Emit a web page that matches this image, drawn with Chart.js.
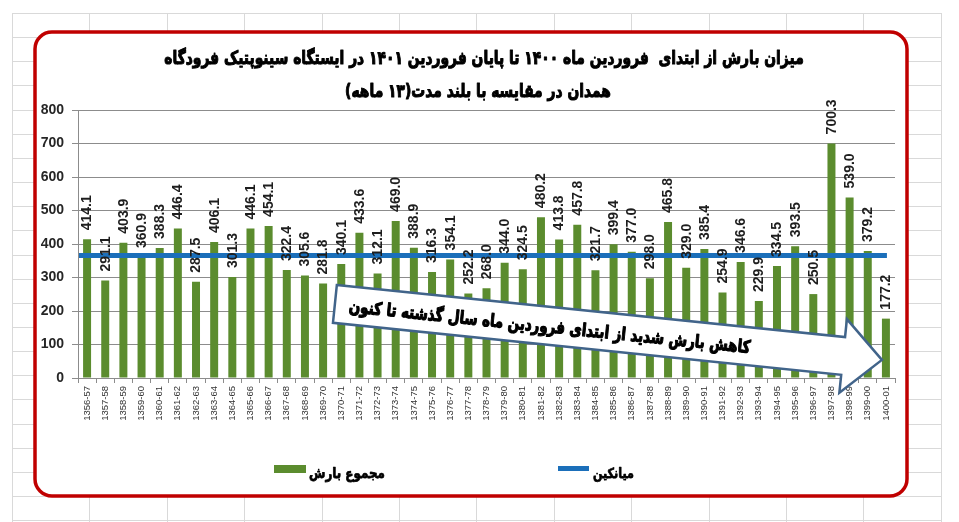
<!DOCTYPE html>
<html>
<head>
<meta charset="utf-8">
<script src="https://cdn.jsdelivr.net/npm/chart.js@4.4.1/dist/chart.umd.min.js"></script>
<style>
  html, body { margin: 0; padding: 0; background: #ffffff; }
  canvas { display: block; }
</style>
</head>
<body>
<canvas id="c" width="959" height="522"></canvas>
<script>
// ---------------- DATA ----------------
const categories = [
  '1356-57','1357-58','1358-59','1359-60','1360-61','1361-62','1362-63','1363-64','1364-65','1365-66',
  '1366-67','1367-68','1368-69','1369-70','1370-71','1371-72','1372-73','1373-74','1374-75','1375-76',
  '1376-77','1377-78','1378-79','1379-80','1380-81','1381-82','1382-83','1383-84','1384-85','1385-86',
  '1386-87','1387-88','1388-89','1389-90','1390-91','1391-92','1392-93','1393-94','1394-95','1395-96',
  '1396-97','1397-98','1398-99','1399-00','1400-01'
];
const rainfall = [
  414.1, 291.1, 403.9, 360.9, 388.3, 446.4, 287.5, 406.1, 301.3, 446.1,
  454.1, 322.4, 305.6, 281.8, 340.1, 433.6, 312.1, 469.0, 388.9, 316.3,
  354.1, 252.2, 268.0, 344.0, 324.5, 480.2, 413.8, 457.8, 321.7, 399.4,
  377.0, 298.0, 465.8, 329.0, 385.4, 254.9, 346.6, 229.9, 334.5, 393.5,
  250.5, 700.3, 539.0, 379.2, 177.2
];
const meanValue = 365.5;
const yTickValues = [0, 100, 200, 300, 400, 500, 600, 700, 800];
const titleLines = [
  'میزان بارش از ابتدای  فروردین ماه ۱۴۰۰ تا پایان فروردین ۱۴۰۱ در ایستگاه سینوپتیک فرودگاه',
  'همدان در مقایسه با بلند مدت(۱۳ ماهه)'
];
const seriesNames = ['مجموع بارش', 'میانکین'];
const arrowText = 'کاهش بارش شدید از ابتدای فروردین ماه سال گذشته تا کنون';

// ---------------- STYLE ----------------
const GREEN = '#5b8c2e';
const BLUE = '#1b6fba';
const RED = '#c00000';
const PERSIAN_FONT = '"DejaVu Sans"';
const LATIN_FONT = '"Liberation Sans", Arial, sans-serif';

function fitFont(ctx, text, target, weight, family, base) {
  ctx.font = weight + ' ' + base + 'px ' + family;
  const w = ctx.measureText(text).width;
  return base * target / w;
}

// heavy text: fill + thin stroke, with optional vertical stretch
function heavyText(ctx, text, x, y, stretch, strokeW) {
  ctx.save();
  ctx.translate(x, y);
  ctx.scale(1, stretch);
  ctx.lineWidth = strokeW;
  ctx.strokeStyle = ctx.fillStyle;
  ctx.lineJoin = 'round';
  ctx.strokeText(text, 0, 0);
  ctx.fillText(text, 0, 0);
  ctx.restore();
}

const decorPlugin = {
  id: 'decor',
  beforeDraw(chart) {
    const ctx = chart.ctx;
    ctx.save();
    ctx.fillStyle = '#ffffff';
    ctx.fillRect(0, 0, chart.width, chart.height);
    ctx.strokeStyle = '#d9d9d9';
    ctx.lineWidth = 1;
    const gx0 = 12, gdx = 77.4, gy0 = 13, gdy = 24.15, gxEnd = 941, gyEnd = 522;
    for (let x = gx0; x <= gxEnd + 1; x += gdx) {
      ctx.beginPath(); ctx.moveTo(Math.round(x) + 0.5, gy0); ctx.lineTo(Math.round(x) + 0.5, gyEnd); ctx.stroke();
    }
    for (let y = gy0; y <= gyEnd; y += gdy) {
      ctx.beginPath(); ctx.moveTo(gx0, Math.round(y) + 0.5); ctx.lineTo(gxEnd, Math.round(y) + 0.5); ctx.stroke();
    }
    ctx.beginPath();
    ctx.roundRect(35, 32, 872, 464, 17);
    ctx.fillStyle = '#ffffff';
    ctx.fill();
    ctx.lineWidth = 3.5;
    ctx.strokeStyle = RED;
    ctx.stroke();
    ctx.restore();
  },
  afterDatasetsDraw(chart) {
    const ctx = chart.ctx;
    const xs = chart.scales.x, ys = chart.scales.y;
    const area = chart.chartArea;
    ctx.save();

    // mean line
    const my = ys.getPixelForValue(meanValue);
    ctx.strokeStyle = BLUE;
    ctx.lineWidth = 5;
    ctx.beginPath();
    ctx.moveTo(area.left + 1, my);
    ctx.lineTo(xs.getPixelForValue(categories.length - 1) + 1, my);
    ctx.stroke();

    // data labels (rotated)
    const meta = chart.getDatasetMeta(0);
    ctx.fillStyle = '#1e1e1e';
    ctx.font = 'bold 14px ' + LATIN_FONT;
    ctx.textAlign = 'left';
    ctx.textBaseline = 'middle';
    meta.data.forEach((bar, i) => {
      ctx.save();
      ctx.translate(bar.x + 0.5, bar.y - 9);
      ctx.rotate(-Math.PI / 2);
      ctx.fillText(rainfall[i].toFixed(1), 0, 0);
      ctx.restore();
    });

    // arrow annotation (anchored on scale coordinates)
    const sx = xs.getPixelForValue(13.65), sy = ys.getPixelForValue(221);
    const tx = xs.getPixelForValue(43.78), ty = ys.getPixelForValue(54);
    const ang = Math.atan2(ty - sy, tx - sx);
    const L = Math.hypot(tx - sx, ty - sy);
    const bh = 19, hh = 37, hl = 39;
    ctx.save();
    ctx.translate(sx, sy);
    ctx.rotate(ang);
    ctx.beginPath();
    ctx.moveTo(0, -bh);
    ctx.lineTo(L - hl, -bh);
    ctx.lineTo(L - hl, -hh);
    ctx.lineTo(L, 0);
    ctx.lineTo(L - hl, hh);
    ctx.lineTo(L - hl, bh);
    ctx.lineTo(0, bh);
    ctx.closePath();
    ctx.fillStyle = '#ffffff';
    ctx.fill();
    ctx.lineJoin = 'miter';
    ctx.lineWidth = 2.5;
    ctx.strokeStyle = '#41648a';
    ctx.stroke();
    const asz = fitFont(ctx, arrowText, 404, 'bold', PERSIAN_FONT, 17);
    ctx.font = 'bold ' + asz + 'px ' + PERSIAN_FONT;
    ctx.direction = 'rtl';
    ctx.textAlign = 'center';
    ctx.textBaseline = 'middle';
    ctx.fillStyle = '#000000';
    heavyText(ctx, arrowText, 216, 2, 1.3, 0.9);
    ctx.restore();

    ctx.restore();
  },
  afterDraw(chart) {
    const ctx = chart.ctx;
    ctx.save();
    ctx.direction = 'rtl';
    ctx.textAlign = 'center';
    ctx.textBaseline = 'middle';
    ctx.fillStyle = '#000000';
    const tsz = fitFont(ctx, titleLines[0], 640, 'bold', PERSIAN_FONT, 15);
    ctx.font = 'bold ' + tsz + 'px ' + PERSIAN_FONT;
    heavyText(ctx, titleLines[0], 484, 59, 1.3, 0.8);
    heavyText(ctx, titleLines[1], 478, 92, 1.3, 0.8);

    // legend
    ctx.fillStyle = GREEN;
    ctx.fillRect(274, 465, 32, 8);
    ctx.fillStyle = BLUE;
    ctx.fillRect(558, 466, 31, 5);
    ctx.fillStyle = '#000000';
    ctx.textAlign = 'left';
    ctx.direction = 'ltr';
    const l1 = fitFont(ctx, seriesNames[0], 76, 'bold', PERSIAN_FONT, 14);
    ctx.font = 'bold ' + l1 + 'px ' + PERSIAN_FONT;
    heavyText(ctx, seriesNames[0], 309, 474, 1.25, 0.6);
    const l2 = fitFont(ctx, seriesNames[1], 41, 'bold', PERSIAN_FONT, 14);
    ctx.font = 'bold ' + l2 + 'px ' + PERSIAN_FONT;
    heavyText(ctx, seriesNames[1], 593, 474, 1.25, 0.6);
    ctx.restore();
  }
};

new Chart(document.getElementById('c'), {
  type: 'bar',
  data: {
    labels: categories,
    datasets: [{
      label: seriesNames[0],
      data: rainfall,
      backgroundColor: GREEN,
      borderWidth: 0,
      barPercentage: 0.44,
      categoryPercentage: 1.0
    }]
  },
  options: {
    responsive: false,
    animation: false,
    devicePixelRatio: 1,
    layout: { padding: { left: 36, right: 64, top: 110, bottom: 0 } },
    plugins: { legend: { display: false }, title: { display: false }, tooltip: { enabled: false } },
    scales: {
      x: {
        offset: true,
        grid: { display: true, drawOnChartArea: false, drawTicks: true, tickLength: 5, color: '#8c8c8c', offset: true },
        border: { display: true, color: '#8c8c8c', width: 1 },
        ticks: {
          autoSkip: false, minRotation: 90, maxRotation: 90, padding: 3,
          color: '#333333', font: { family: LATIN_FONT, size: 9.5 }
        },
        afterFit(s) { s.height = 144; }
      },
      y: {
        min: 0, max: 800,
        afterBuildTicks(s) { s.ticks = yTickValues.map(v => ({ value: v })); },
        grid: { color: '#8c8c8c', lineWidth: 1, drawTicks: true, tickLength: 6 },
        border: { display: true, color: '#8c8c8c', width: 1 },
        ticks: { padding: 8, color: '#262626', font: { family: LATIN_FONT, size: 14, weight: 'bold' } },
        afterFit(s) { s.width = 42; }
      }
    }
  },
  plugins: [decorPlugin]
});
</script>
</body>
</html>
